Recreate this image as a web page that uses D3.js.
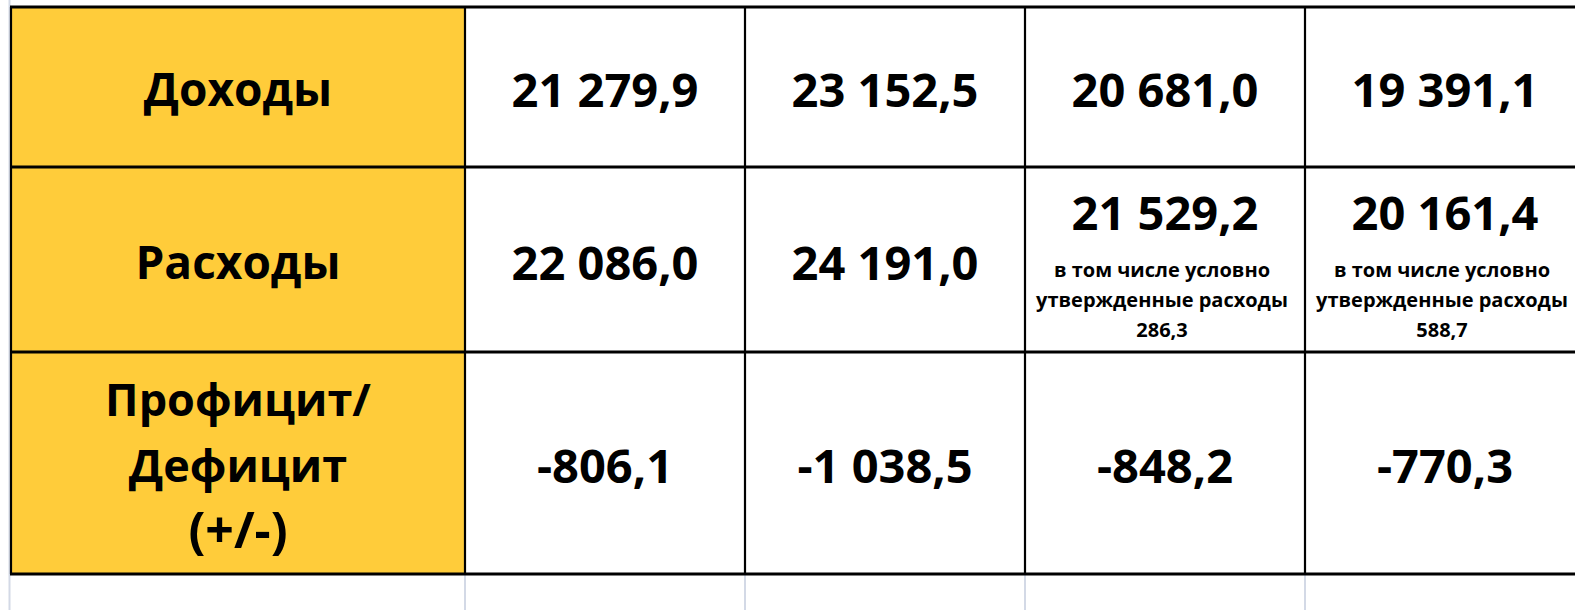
<!DOCTYPE html>
<html lang="ru">
<head>
<meta charset="UTF-8">
<title>Доходы, расходы и дефицит бюджета</title>
<script src="https://d3js.org/d3.v7.min.js"></script>
<style>
  html, body { margin: 0; padding: 0; background: #fff; }
  svg { display: block; }
  text { font-family: "Open Sans", "Noto Sans", sans-serif; font-weight: 700; fill: #000; }
</style>
</head>
<body>
<div id="table"></div>
<script>
// Data
const rowLabels = [["Доходы"], ["Расходы"], ["Профицит/", "Дефицит", "(+/-)"]];
const revenue = [21279.9, 23152.5, 20681.0, 19391.1];
const expenses = [22086.0, 24191.0, 21529.2, 20161.4];
const balance = [-806.1, -1038.5, -848.2, -770.3];
const approvedExpenses = [null, null, 286.3, 588.7];
const noteLines = ["в том числе условно", "утвержденные расходы"];

const rows = [revenue, expenses, balance];

// Russian number format: space as thousands separator, comma as decimal
const ru = d3.formatLocale({ decimal: ",", thousands: "\u00a0", grouping: [3], currency: ["", ""], minus: "-" });
const fmt = ru.format(",.1f");

// Layout
const W = 1575, H = 610;
const tableTop = 7, tableLeft = 11, labelRight = 465;
const colWidth = 280;
const rowHeights = [160, 185, 222];
const yEdges = [tableTop, ...d3.cumsum(rowHeights, d => d).map(v => v + tableTop)];
const yell = "#FFCC3A";
const gridColor = "#D3D9E6";

const x = d3.scaleBand()
    .domain(d3.range(revenue.length))
    .range([labelRight, labelRight + colWidth * revenue.length]);

const y = d3.scaleOrdinal()
    .domain(d3.range(rows.length))
    .range(yEdges.slice(0, -1));

const svg = d3.select("#table").append("svg")
    .attr("width", W)
    .attr("height", H);

// faint spreadsheet gridlines below / left of the table
const gridX = [tableLeft - 1.5, ...x.domain().map(i => x(i))];
svg.selectAll(".grid")
    .data(gridX)
    .enter().append("line")
    .attr("class", "grid")
    .attr("x1", d => d).attr("x2", d => d)
    .attr("y1", (d, i) => i === 0 ? 0 : yEdges[3])
    .attr("y2", H)
    .attr("stroke", gridColor)
    .attr("stroke-width", 2);

// yellow label column
svg.selectAll(".labelCell")
    .data(rowLabels)
    .enter().append("rect")
    .attr("class", "labelCell")
    .attr("x", tableLeft)
    .attr("y", (d, i) => y(i))
    .attr("width", labelRight - tableLeft)
    .attr("height", (d, i) => rowHeights[i])
    .attr("fill", yell);

// row labels
const labelSize = 46;
const labelLead = 66;
svg.selectAll(".label")
    .data(rowLabels)
    .enter().append("text")
    .attr("class", "label")
    .attr("text-anchor", "middle")
    .style("font-size", d => (d.length > 1 ? 45 : labelSize) + "px")
    .each(function(lines, i) {
        const cy = y(i) + rowHeights[i] / 2 + 19;
        const startY = cy - (lines.length - 1) * labelLead / 2;
        d3.select(this).selectAll("tspan")
            .data(lines)
            .enter().append("tspan")
            .attr("x", (tableLeft + labelRight) / 2)
            .attr("y", (d, j) => startY + j * labelLead)
            .style("font-size", d => d.startsWith("(") ? "50px" : null)
            .text(d => d);
    });

// values
const valueSize = 47;
rows.forEach((vals, r) => {
    const g = svg.append("g").attr("class", "row");
    g.selectAll("text.value")
        .data(vals)
        .enter().append("text")
        .attr("class", "value")
        .attr("text-anchor", "middle")
        .attr("x", (d, i) => x(i) + x.bandwidth() / 2)
        .attr("y", (d, i) => {
            const mid = y(r) + rowHeights[r] / 2 + 20;
            return (r === 1 && approvedExpenses[i] != null) ? y(r) + 63 : mid;
        })
        .style("font-size", valueSize + "px")
        .text(d => fmt(d));
});

// note under the last two expense values
const noteSize = 20;
const noteData = approvedExpenses.map((v, i) => ({ v, i })).filter(d => d.v != null);
svg.selectAll(".note")
    .data(noteData)
    .enter().append("text")
    .attr("class", "note")
    .attr("text-anchor", "middle")
    .style("font-size", noteSize + "px")
    .each(function(d) {
        const lines = [...noteLines, fmt(d.v)];
        d3.select(this).selectAll("tspan")
            .data(lines)
            .enter().append("tspan")
            .attr("x", x(d.i) + x.bandwidth() / 2 - 3)
            .attr("y", (t, j) => y(1) + 110 + j * 30)
            .text(t => t);
    });

// borders
svg.selectAll(".hline")
    .data(yEdges)
    .enter().append("line")
    .attr("class", "hline")
    .attr("x1", tableLeft - 1).attr("x2", W)
    .attr("y1", d => d).attr("y2", d => d)
    .attr("stroke", "#000")
    .attr("stroke-width", 3);

const vEdges = [tableLeft, ...x.domain().map(i => x(i))];
svg.selectAll(".vline")
    .data(vEdges)
    .enter().append("line")
    .attr("class", "vline")
    .attr("x1", d => d).attr("x2", d => d)
    .attr("y1", yEdges[0]).attr("y2", yEdges[yEdges.length - 1])
    .attr("stroke", "#000")
    .attr("stroke-width", 2.2);
</script>
</body>
</html>
